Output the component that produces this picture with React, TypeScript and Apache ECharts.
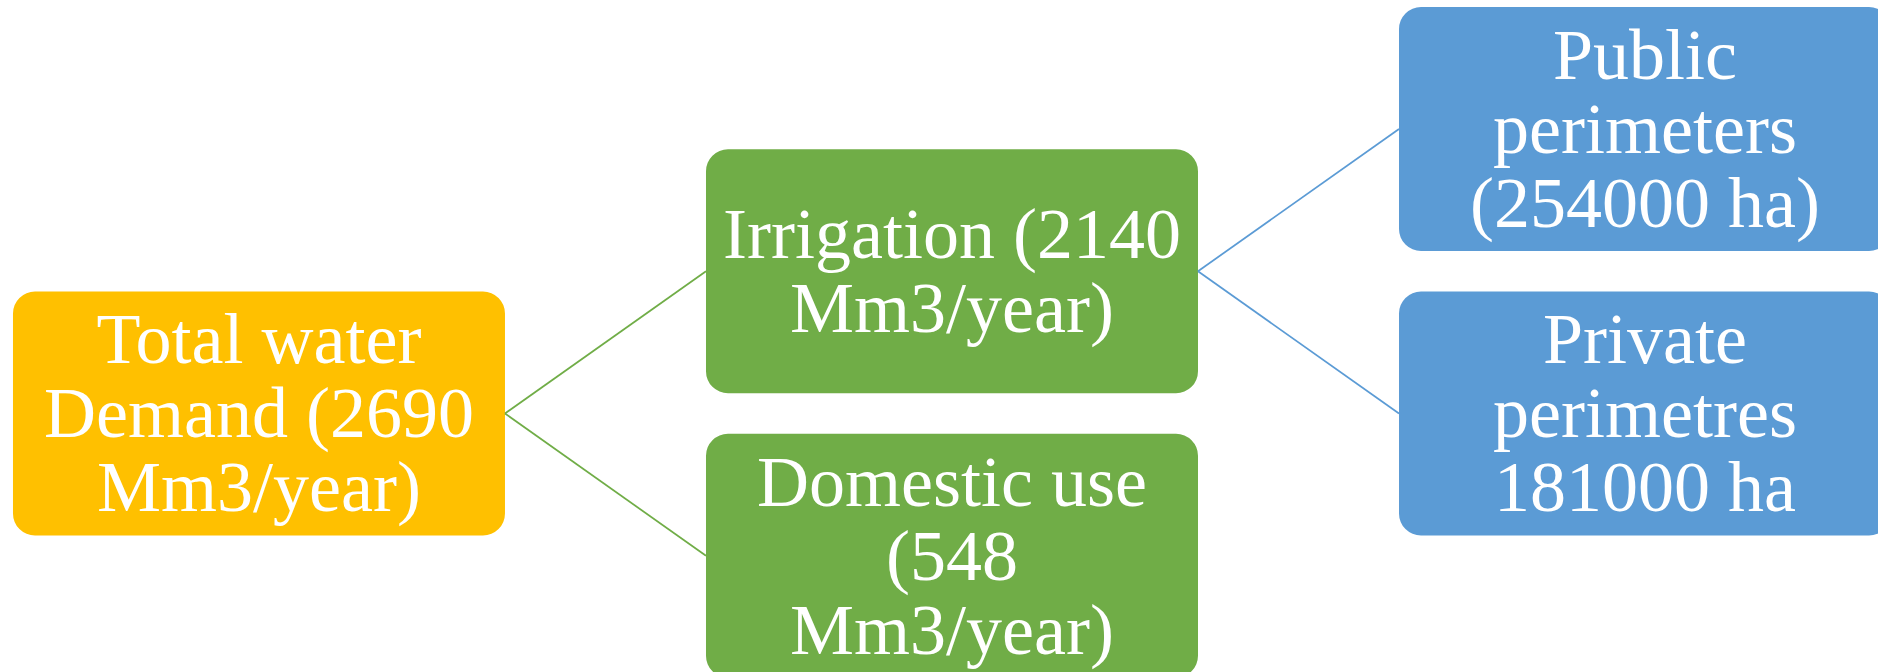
import React, { useEffect, useRef } from "react";
import * as echarts from "echarts";

// ---- Data ----
const nodeLabels: string[] = [
  "Total water\nDemand (2690\nMm3/year)",
  "Irrigation (2140\nMm3/year)",
  "Domestic use\n(548\nMm3/year)",
  "Public\nperimeters\n(254000 ha)",
  "Private\nperimetres\n181000 ha",
];
// parent index of each node (-1 = root)
const nodeParents: number[] = [-1, 0, 0, 1, 1];

// ---- Styles ----
const levelColors = ["#FFC000", "#70AD47", "#5B9BD5"];
const BOX_W = 492;
const BOX_H = 244;
const BOX_R = 22;
const FONT = "'Liberation Serif', 'Times New Roman', serif";

// Simple tidy-tree layout (levels + breadth slots) computed from the parent list
function computeLayout(parents: number[]) {
  const n = parents.length;
  const children: number[][] = Array.from({ length: n }, () => []);
  let root = 0;
  parents.forEach((p, i) => {
    if (p < 0) root = i;
    else children[p].push(i);
  });
  const depth = new Array(n).fill(0);
  const setDepth = (i: number, d: number) => {
    depth[i] = d;
    children[i].forEach((c) => setDepth(c, d + 1));
  };
  setDepth(root, 0);
  const pos = new Array(n).fill(0);
  const subtree = (i: number): number[] => {
    if (!children[i].length) {
      pos[i] = 0;
      return [i];
    }
    let acc: number[] = [];
    children[i].forEach((c, k) => {
      const nodes = subtree(c);
      if (k > 0) {
        const rightOf: Record<number, number> = {};
        acc.forEach((a) => {
          const d = depth[a];
          rightOf[d] = rightOf[d] === undefined ? pos[a] : Math.max(rightOf[d], pos[a]);
        });
        let shift = -Infinity;
        nodes.forEach((b) => {
          const r = rightOf[depth[b]];
          if (r !== undefined) shift = Math.max(shift, r + 1 - pos[b]);
        });
        if (shift === -Infinity) shift = 0;
        nodes.forEach((b) => (pos[b] += shift));
      }
      acc = acc.concat(nodes);
    });
    const f = children[i][0];
    const l = children[i][children[i].length - 1];
    pos[i] = (pos[f] + pos[l]) / 2;
    return [i, ...acc];
  };
  subtree(root);
  const minPos = Math.min(...pos);
  for (let i = 0; i < n; i++) pos[i] -= minPos;
  return { depth, pos };
}

export default function App() {
  const ref = useRef<HTMLDivElement>(null);

  useEffect(() => {
    if (!ref.current) return;
    const chart = echarts.init(ref.current, undefined, { renderer: "svg" });
    const { depth, pos } = computeLayout(nodeParents);
    const data = nodeLabels.map((_, i) => {
      const p = nodeParents[i];
      return [depth[i], pos[i], p >= 0 ? depth[p] : -1, p >= 0 ? pos[p] : -1, i];
    });

    chart.setOption({
      animation: false,
      backgroundColor: "#ffffff",
      grid: { left: 0, right: 0, top: 0, bottom: 0 },
      xAxis: {
        type: "value",
        min: -0.3737,
        max: 2.3362,
        show: false,
      },
      yAxis: {
        type: "value",
        inverse: true,
        min: -0.4534,
        max: 1.9086,
        show: false,
      },
      series: [
        {
          type: "custom",
          coordinateSystem: "cartesian2d",
          encode: { x: 0, y: 1 },
          clip: false,
          data,
          renderItem: (params: any, api: any) => {
            const idx = api.value(4) as number;
            const lvl = api.value(0) as number;
            const c = api.coord([lvl, api.value(1)]);
            const color = levelColors[lvl];
            const els: any[] = [];
            if (nodeParents[idx] >= 0) {
              const pc = api.coord([api.value(2), api.value(3)]);
              els.push({
                type: "line",
                shape: {
                  x1: pc[0] + BOX_W / 2,
                  y1: pc[1],
                  x2: c[0] - BOX_W / 2,
                  y2: c[1],
                },
                style: { stroke: color, lineWidth: 1.75, fill: "none" },
              });
            }
            els.push({
              type: "rect",
              shape: {
                x: c[0] - BOX_W / 2,
                y: c[1] - BOX_H / 2,
                width: BOX_W,
                height: BOX_H,
                r: BOX_R,
              },
              style: { fill: color },
            });
            els.push({
              type: "text",
              x: c[0],
              y: c[1],
              style: {
                text: nodeLabels[idx],
                fill: "#ffffff",
                fontFamily: FONT,
                fontSize: 72,
                lineHeight: 74,
                align: "center",
                verticalAlign: "middle",
                textAlign: "center",
                textVerticalAlign: "middle",
              },
            });
            return { type: "group", children: els };
          },
        },
      ],
    });

    return () => chart.dispose();
  }, []);

  return (
    <div
      ref={ref}
      style={{ position: "fixed", left: 0, top: 0, width: 1878, height: 672 }}
    />
  );
}
